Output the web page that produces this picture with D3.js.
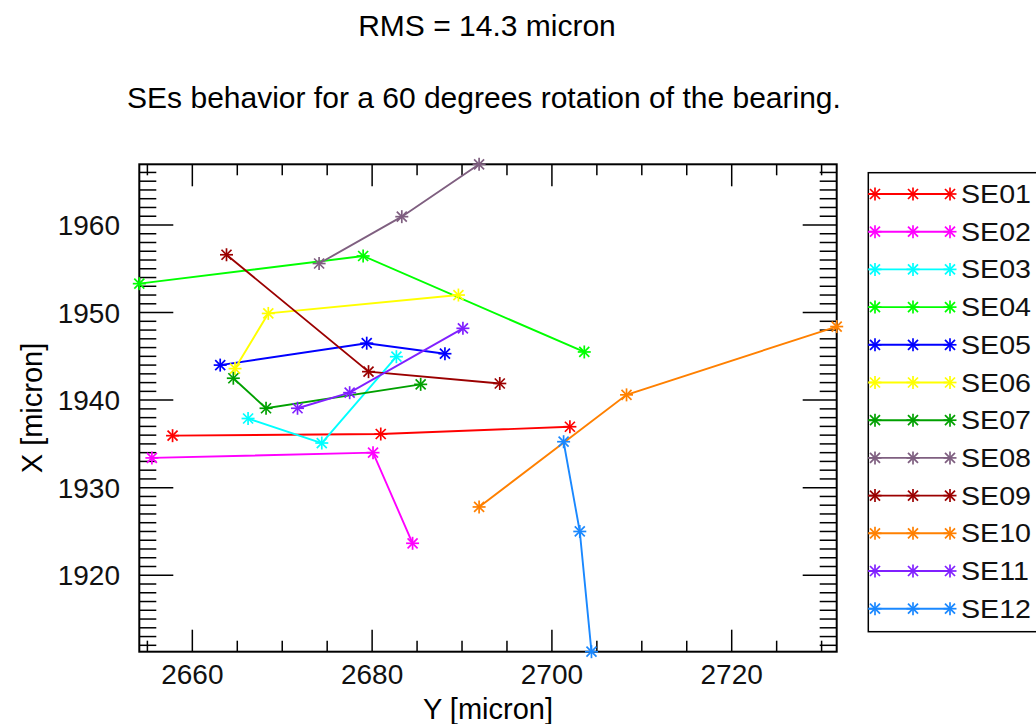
<!DOCTYPE html>
<html>
<head>
<meta charset="utf-8">
<script src="https://cdn.jsdelivr.net/npm/d3@7"></script>
<style>
  html, body { margin: 0; padding: 0; background: #fff; }
  svg { display: block; font-family: "Liberation Sans", Arial, Helvetica, sans-serif; }
</style>
</head>
<body>
<div id="chart"></div>
<script>
// ─── Data (Y, X) in micron ───────────────────────────────────────────────────
const seriesNames = ['SE01', 'SE02', 'SE03', 'SE04', 'SE05', 'SE06',
                     'SE07', 'SE08', 'SE09', 'SE10', 'SE11', 'SE12'];
const seriesColors = ['#ff0000', '#ff00ff', '#00ffff', '#00ff00', '#0000ff', '#ffff00',
                      '#00a000', '#7f5f80', '#9b0000', '#ff8000', '#8020ff', '#1a88ff'];

const se01 = [[2657.8, 1935.94], [2680.96, 1936.13], [2702.0, 1936.96]];
const se02 = [[2655.5, 1933.4], [2680.1, 1934.0], [2684.5, 1923.65]];
const se03 = [[2666.2, 1937.9], [2674.4, 1935.1], [2682.7, 1944.96]];
const se04 = [[2654.1, 1953.3], [2679.0, 1956.46], [2703.6, 1945.5]];
const se05 = [[2663.1, 1944.0], [2679.4, 1946.5], [2688.1, 1945.3]];
const se06 = [[2664.75, 1943.6], [2668.45, 1949.9], [2689.6, 1952.0]];
const se07 = [[2664.56, 1942.5], [2668.2, 1939.07], [2685.4, 1941.8]];
const se08 = [[2674.1, 1955.6], [2683.3, 1960.95], [2691.9, 1966.93]];
const se09 = [[2663.8, 1956.6], [2679.6, 1943.25], [2694.2, 1941.9]];
const se10 = [[2691.9, 1927.8], [2708.3, 1940.6], [2731.68, 1948.4]];
const se11 = [[2671.7, 1939.07], [2677.5, 1940.85], [2690.1, 1948.2]];
const se12 = [[2701.3, 1935.25], [2703.1, 1925.0], [2704.4, 1911.27]];
const seriesValues = [se01, se02, se03, se04, se05, se06, se07, se08, se09, se10, se11, se12];

const xTickValues = [2660, 2680, 2700, 2720];
const yTickValues = [1920, 1930, 1940, 1950, 1960];

const titleTop = 'RMS = 14.3 micron';
const titleSub = 'SEs behavior for a 60 degrees rotation of the bearing.';

// ─── Layout ──────────────────────────────────────────────────────────────────
const W = 1036, H = 724;
const plot = { left: 139.3, right: 836.7, top: 164.3, bottom: 651.7 };

const svg = d3.select('#chart').append('svg')
    .attr('width', W).attr('height', H);

// exact data range, like IDL xstyle=1 / ystyle=1
const allPts = seriesValues.flat();
const x = d3.scaleLinear().domain(d3.extent(allPts, d => d[0])).range([plot.left, plot.right]);
const y = d3.scaleLinear().domain(d3.extent(allPts, d => d[1])).range([plot.bottom, plot.top]);

// asterisk marker (IDL psym=2): plus + cross
function asterisk(sel, cx, cy, color) {
    const a = 6.5, b = 5;
    const segs = [[-a, 0, a, 0], [0, -a, 0, a], [-b, -b, b, b], [-b, b, b, -b]];
    segs.forEach(s => {
        sel.append('line')
            .attr('x1', cx + s[0]).attr('y1', cy + s[1])
            .attr('x2', cx + s[2]).attr('y2', cy + s[3])
            .attr('stroke', color).attr('stroke-width', 1.7);
    });
}

// ─── Titles ──────────────────────────────────────────────────────────────────
svg.append('text').attr('x', 487).attr('y', 36)
    .attr('text-anchor', 'middle').style('font-size', '30px').text(titleTop);
svg.append('text').attr('x', 484).attr('y', 108)
    .attr('text-anchor', 'middle').style('font-size', '30px').text(titleSub);

// ─── Axes: ticks on all four sides pointing inward ───────────────────────────
const axisG = svg.append('g').attr('stroke', '#000').attr('stroke-width', 1.5);
const [x0, x1] = x.domain();
const [y0, y1] = y.domain();

d3.range(Math.ceil(x0 / 5) * 5, x1 + 1e-9, 5).forEach(v => {
    const len = v % 20 === 0 ? 22 : 11;
    const px = x(v);
    axisG.append('line').attr('x1', px).attr('x2', px)
        .attr('y1', plot.bottom).attr('y2', plot.bottom - len);
    axisG.append('line').attr('x1', px).attr('x2', px)
        .attr('y1', plot.top).attr('y2', plot.top + len);
});

d3.range(Math.ceil(y0), y1 + 1e-9, 1).forEach(v => {
    const len = v % 10 === 0 ? 34 : 17;
    const py = y(v);
    axisG.append('line').attr('y1', py).attr('y2', py)
        .attr('x1', plot.left).attr('x2', plot.left + len);
    axisG.append('line').attr('y1', py).attr('y2', py)
        .attr('x1', plot.right).attr('x2', plot.right - len);
});

svg.append('rect')
    .attr('x', plot.left).attr('y', plot.top)
    .attr('width', plot.right - plot.left).attr('height', plot.bottom - plot.top)
    .attr('fill', 'none').attr('stroke', '#000').attr('stroke-width', 2);

// tick labels
svg.append('g').selectAll('text').data(xTickValues).enter().append('text')
    .attr('x', d => x(d)).attr('y', 684)
    .attr('text-anchor', 'middle').style('font-size', '28px')
    .attr('fill', '#111').text(d => d);

svg.append('g').selectAll('text').data(yTickValues).enter().append('text')
    .attr('x', 120).attr('y', d => y(d)).attr('dy', '0.36em')
    .attr('text-anchor', 'end').style('font-size', '28px')
    .attr('fill', '#111').text(d => d);

// axis titles
svg.append('text').attr('x', (plot.left + plot.right) / 2).attr('y', 719)
    .attr('text-anchor', 'middle').style('font-size', '29px').text('Y [micron]');
svg.append('text')
    .attr('transform', `translate(42,${(plot.top + plot.bottom) / 2}) rotate(-90)`)
    .attr('text-anchor', 'middle').style('font-size', '29px').text('X [micron]');

// ─── Series ──────────────────────────────────────────────────────────────────
const line = d3.line().x(d => x(d[0])).y(d => y(d[1]));
const dataG = svg.append('g');

seriesValues.forEach((pts, i) => {
    const color = seriesColors[i];
    dataG.append('path')
        .attr('d', line(pts))
        .attr('fill', 'none')
        .attr('stroke', color)
        .attr('stroke-width', 1.9);
    pts.forEach(p => asterisk(dataG, x(p[0]), y(p[1]), color));
});

// ─── Legend (box runs off the right edge, like the original) ─────────────────
const leg = { left: 868.3, top: 172.7, bottom: 631.7, row0: 194, rowH: 37.7 };
const legG = svg.append('g');

legG.append('rect')
    .attr('x', leg.left).attr('y', leg.top)
    .attr('width', 220).attr('height', leg.bottom - leg.top)
    .attr('fill', '#fff').attr('stroke', '#000').attr('stroke-width', 1.5);

seriesNames.forEach((name, i) => {
    const cy = leg.row0 + i * leg.rowH;
    const color = seriesColors[i];
    legG.append('line')
        .attr('x1', leg.left).attr('x2', 950)
        .attr('y1', cy).attr('y2', cy)
        .attr('stroke', color).attr('stroke-width', 1.9);
    [875, 913, 950].forEach(mx => asterisk(legG, mx, cy, color));
    // legend labels are slightly wide in the original
    legG.append('text')
        .attr('transform', `translate(961,${cy + 9}) scale(1.1,1)`)
        .style('font-size', '26px').attr('fill', '#111')
        .text(name);
});
</script>
</body>
</html>
